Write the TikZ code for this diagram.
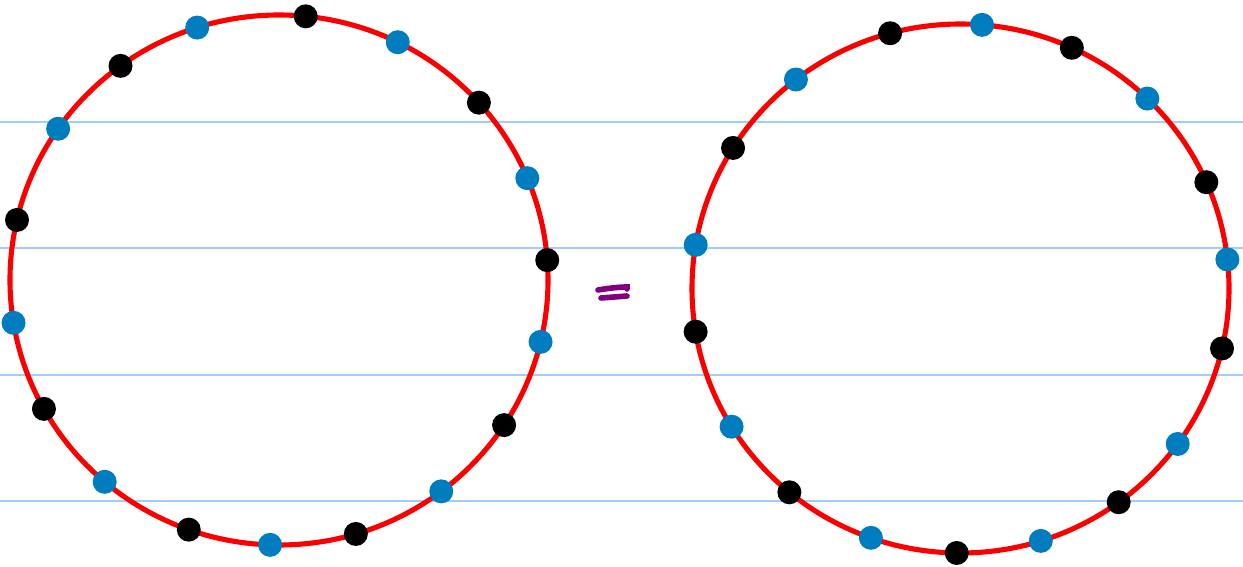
\documentclass[tikz,border=0pt]{standalone}
\usepackage{tikz}
\usetikzlibrary{positioning,calc}
\definecolor{ringcol}{RGB}{250,0,0}
\definecolor{dotcol}{RGB}{0,125,190}
\definecolor{rulecol}{RGB}{160,205,250}
\definecolor{eqcol}{RGB}{128,0,128}

\begin{document}
\begin{tikzpicture}[x=0.02cm, y=-0.02cm,
  ruleline/.style={draw=rulecol, line width=1.1pt},
  ring/.style={draw=ringcol, line width=2.9pt},
  bead/.style={circle, fill=#1, inner sep=0pt, minimum size=0.48cm},
  eqstroke/.style={draw=eqcol, line width=3.2pt, line cap=round},
]
\useasboundingbox (0,0) rectangle (1243,567);

% ruled paper
\foreach \y in {122,248,375,501} \draw[ruleline] (0,\y) -- (1243,\y);

\coordinate (cl) at (279,280);
\coordinate (cr) at (960.5,288.5);

\draw[ring] (cl) ellipse [x radius=269, y radius=265];
\draw[ring] (cr) ellipse [x radius=268.5, y radius=264.5];

% beads on the left ring
\foreach \a/\c [count=\i] in {-107.7/dotcol, -84.3/black, -63.8/dotcol, -42.0/black,
  -22.6/dotcol, -4.3/black, 13.5/dotcol, 33.2/black, 52.9/dotcol, 73.4/black,
  91.9/dotcol, 109.6/black, 130.4/dotcol, 150.9/black, 170.7/dotcol, 193.1/black,
  214.8/dotcol, 233.9/black}
  \node[bead=\c] (l\i) at ($(cl)+(\a:269 and 265)$) {};

% beads on the right ring
\foreach \a/\c [count=\i] in {-105.2/black, -85.4/dotcol, -65.5/black, -45.9/dotcol,
  -23.7/black, -6.3/dotcol, 13.1/black, 36.0/dotcol, 53.9/black, 72.6/dotcol,
  90.8/black, 109.5/dotcol, 129.6/black, 148.5/dotcol, 170.6/black, 189.5/dotcol,
  212.1/black, 232.2/dotcol}
  \node[bead=\c] (r\i) at ($(cr)+(\a:268.5 and 264.5)$) {};

% equals sign
\coordinate (eq1a) at (598,290);
\coordinate (eq1b) at (627,287);
\coordinate (eq2a) at (601,298);
\coordinate (eq2b) at (627,296);
\draw[eqstroke] (eq1a) .. controls (610,288) and (620,287) .. (eq1b) -- ++(0,2);
\draw[eqstroke] (eq2a) -- (eq2b);
\end{tikzpicture}
\end{document}
